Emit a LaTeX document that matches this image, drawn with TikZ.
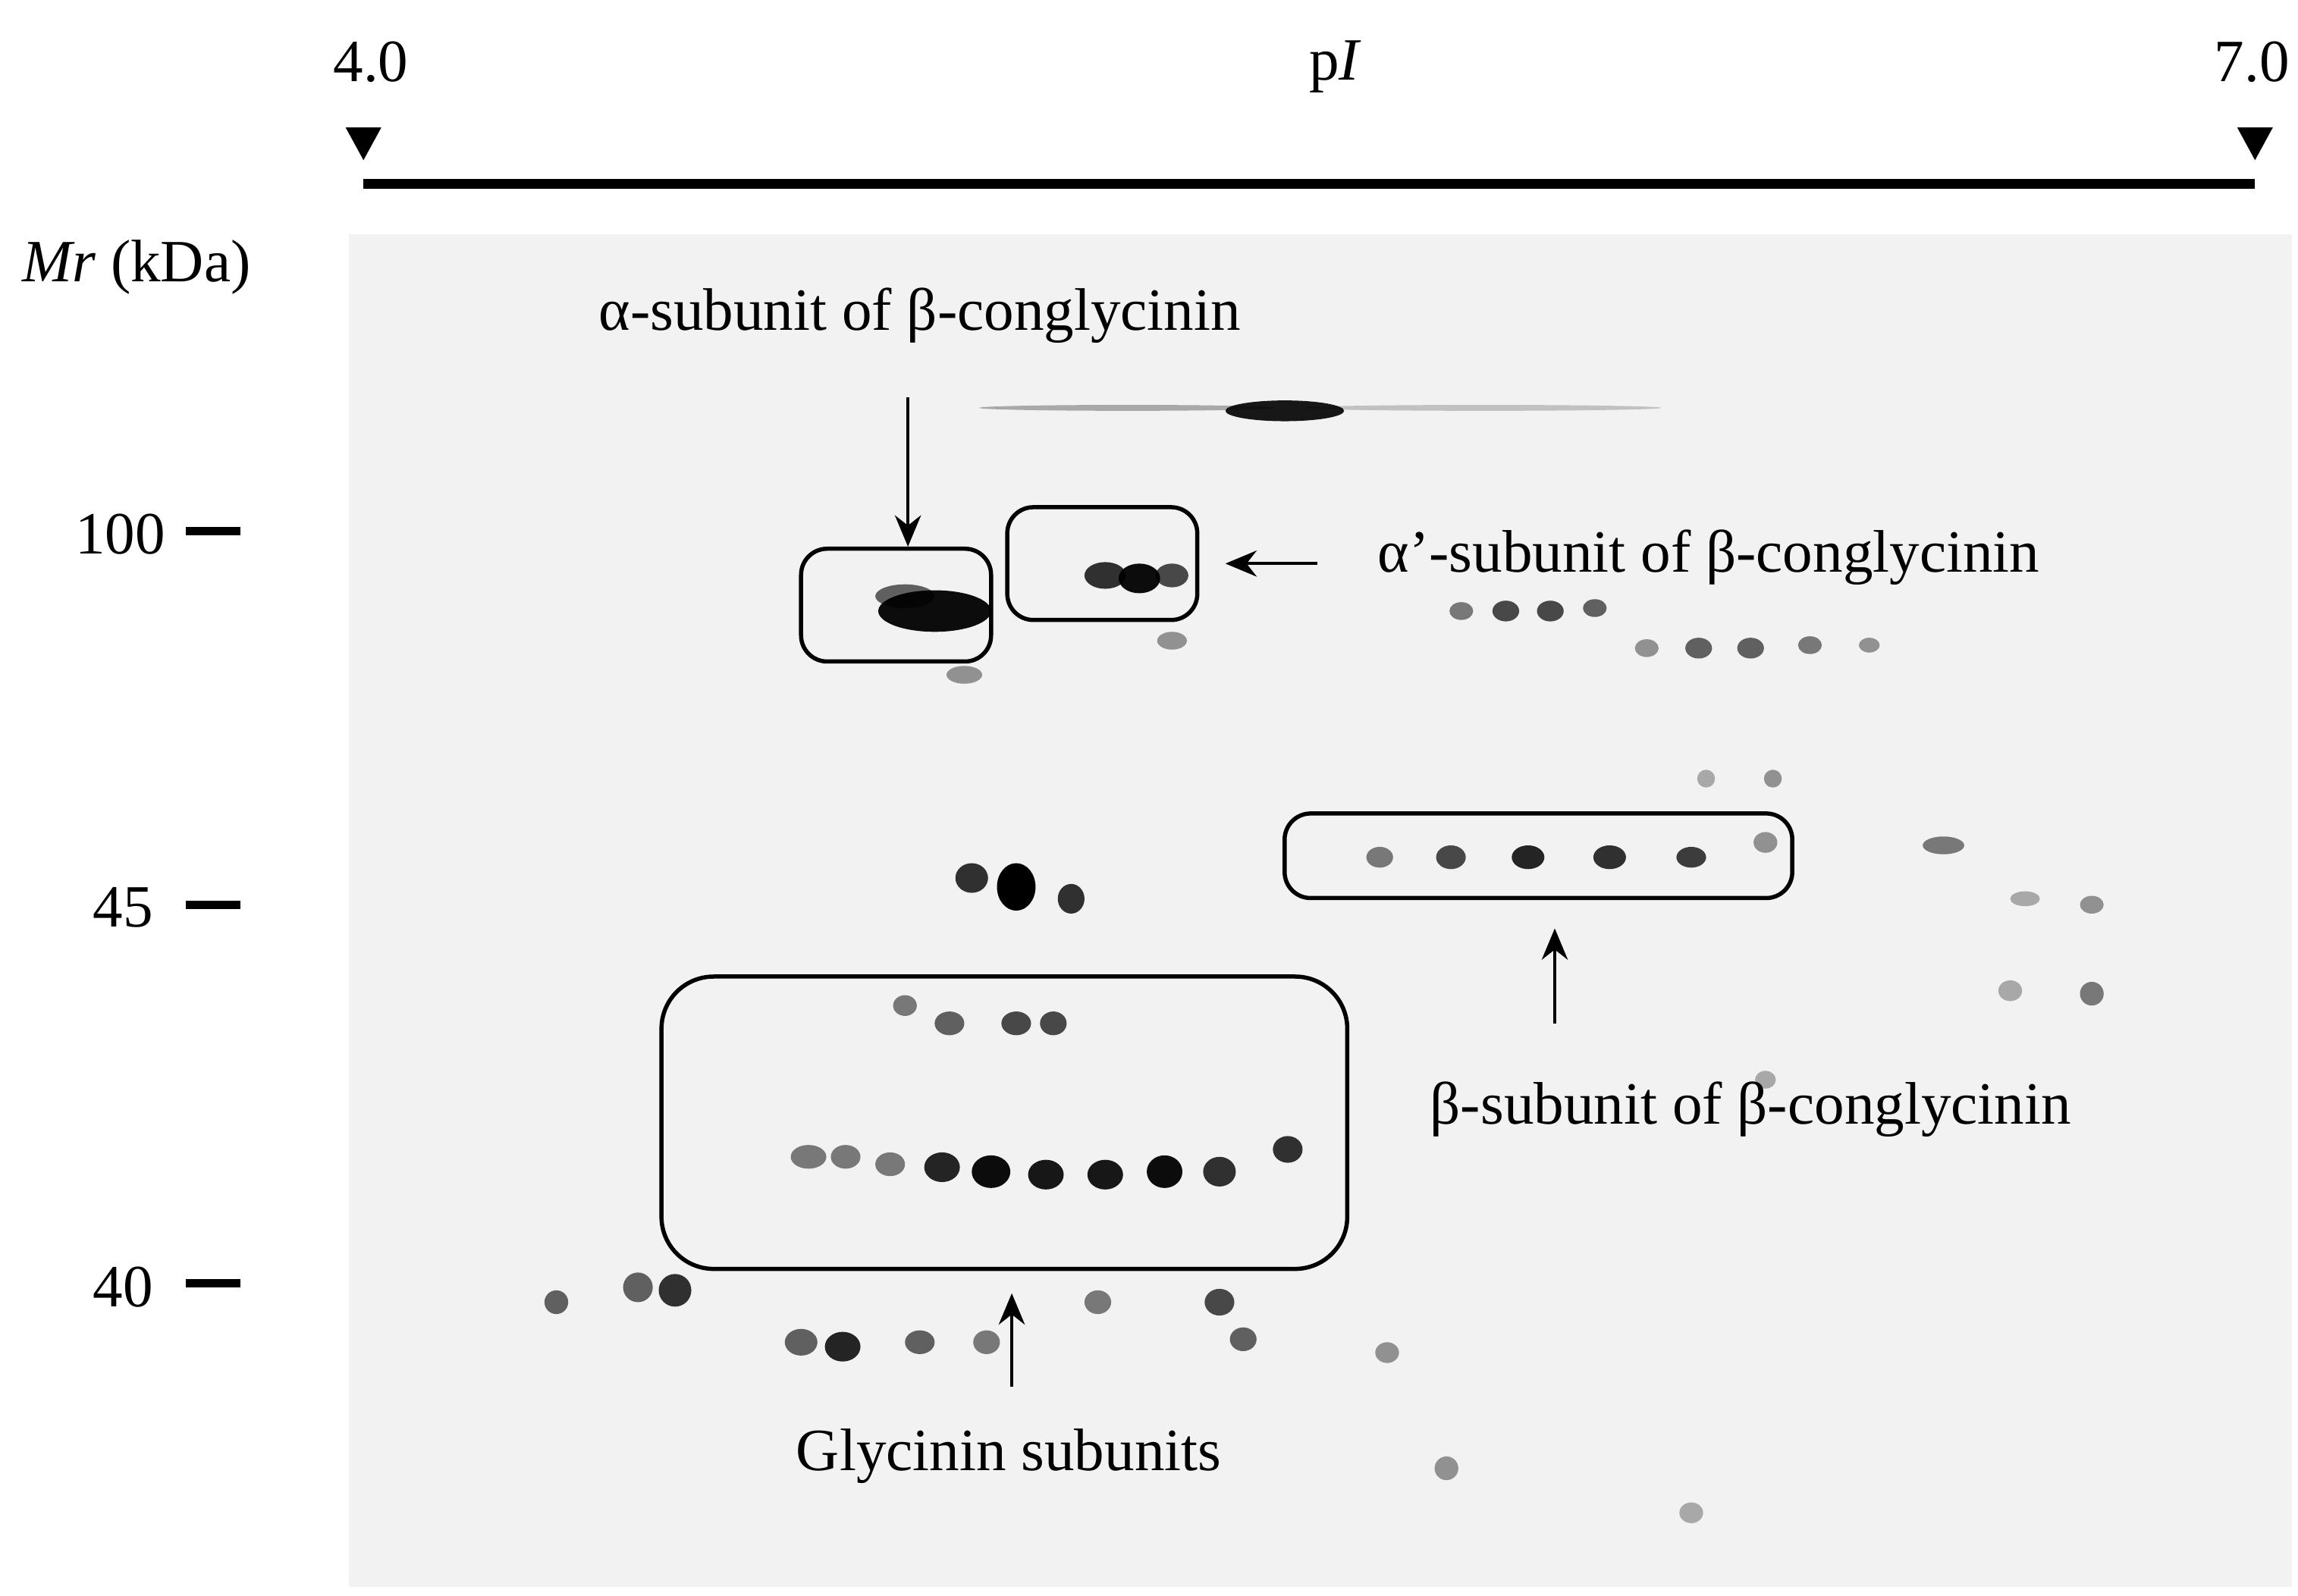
\documentclass[tikz,border=0pt]{standalone}
\usepackage{fontspec}
\setmainfont{Liberation Serif}
\usetikzlibrary{positioning, arrows.meta}
\tikzset{gelbox/.style={draw, thick, rounded corners=5pt},
         callout/.style={-{Stealth[length=6pt,width=5pt]}, semithick},
         lbl/.style={font=\fontsize{11.5}{14}\selectfont, inner sep=0pt},
         tick/.style={line width=1.6pt},
        }

\begin{document}
\begin{tikzpicture}[x=0.01cm, y=-0.01cm]
        \useasboundingbox (0,0) rectangle (1549,1076);
        % gel
        \fill[black!5](235,158)rectangle(1545,1070);
        \foreach \x/\y/\rx/\ry/\o in {866/277/40/7/0.9, 760/275/100/2/0.3, 1000/275/120/2/0.2,
                630/412/38/14/0.95, 610/402/20/8/0.6, 745/388/14/9/0.8, 768/390/14/10/0.95, 790/388/11/8/0.7,
                985/412/8/6/0.5, 1015/412/9/7/0.7, 1045/412/9/7/0.7, 1075/410/8/6/0.6,
                1110/437/8/6/0.4, 1145/437/9/7/0.6, 1180/437/9/7/0.6, 1220/435/8/6/0.5, 1260/435/7/5/0.4,
                930/578/9/7/0.5, 978/578/10/8/0.7, 1030/578/11/8/0.85, 1085/578/11/8/0.8, 1140/578/10/7/0.75, 1190/568/8/7/0.4,
                1310/570/14/6/0.5, 1365/606/10/5/0.3, 1410/610/8/6/0.4,
                655/592/11/10/0.8, 685/598/13/16/1, 722/606/9/10/0.8,
                610/678/8/7/0.5, 640/690/10/8/0.6, 685/690/10/8/0.7, 710/690/9/8/0.7,
                545/780/12/8/0.5, 570/780/10/8/0.5, 600/785/10/8/0.5, 635/787/12/10/0.85, 668/790/13/11/0.95,
                705/792/12/10/0.9, 745/792/12/10/0.9, 785/790/12/11/0.95, 822/790/11/10/0.8, 868/775/10/9/0.8,
                375/878/8/8/0.6, 430/868/10/10/0.6, 455/870/11/11/0.8, 540/905/11/9/0.6, 568/908/12/10/0.85,
                620/905/10/8/0.6, 665/905/9/8/0.5, 740/878/9/8/0.5, 822/878/10/9/0.7, 838/903/9/8/0.6,
                935/912/8/7/0.4, 975/990/8/8/0.4, 1140/1020/8/7/0.3, 1410/670/8/8/0.5, 1355/668/8/7/0.3,
                650/455/12/6/0.4, 790/432/10/6/0.4, 1195/525/6/6/0.4, 1150/525/6/6/0.3, 1190/728/7/6/0.3}
            \fill[black, opacity=\o](\x,\y)ellipse[x radius=\rx, y radius=\ry];

        % pI axis
        \node[lbl](lo)at(250,42){4.0};
        \node[lbl](pi)at(900,45){p\textit{I}};
        \node[lbl](hi)at(1518,42){7.0};
        \fill(233,86)--(257,86)--(245,108)--cycle;
        \fill(1508,86)--(1532,86)--(1520,108)--cycle;
        \draw[line width=1.8pt](245,124)--(1520,124);

        % Mr axis
        \node[lbl](mr)at(92,180){\textit{Mr} (kDa)};
        \node[lbl, anchor=east](m100)at(112,360){100};
        \draw[tick](125,358)--(162,358);
        \node[lbl, anchor=east](m45)at(104,612){45};
        \draw[tick](125,610)--(162,610);
        \node[lbl, anchor=east](m40)at(104,868){40};
        \draw[tick](125,865)--(162,865);

        % boxes
        \node[gelbox, minimum width=1.28cm, minimum height=0.76cm](alpha)at(604,408){};
        \node[gelbox, minimum width=1.28cm, minimum height=0.76cm](alphap)at(743,380){};
        \node[gelbox, minimum width=3.42cm, minimum height=0.57cm](beta)at(1037,577){};
        \node[gelbox, rounded corners=10pt, minimum width=4.62cm, minimum height=1.97cm](gly)at(677,757){};

        % labels and arrows
        \node[lbl](alphalbl)at(620,213){α-subunit of β-conglycinin};
        \coordinate(a1)at(612,268);
        \draw[callout](a1)--(alpha.north -| a1);
        \node[lbl, anchor=west](alphaplbl)at(928,376){α’-subunit of β-conglycinin};
        \coordinate(a2)at(888,380);
        \draw[callout](a2)--(826,380);
        \node[lbl](betalbl)at(1180,748){β-subunit of β-conglycinin};
        \coordinate(a3)at(1048,690);
        \draw[callout](a3)--(1048,626);
        \node[lbl](glylbl)at(680,982){Glycinin subunits};
        \coordinate(a4)at(682,935);
        \draw[callout](a4)--(682,872);
\end{tikzpicture}
\end{document}
